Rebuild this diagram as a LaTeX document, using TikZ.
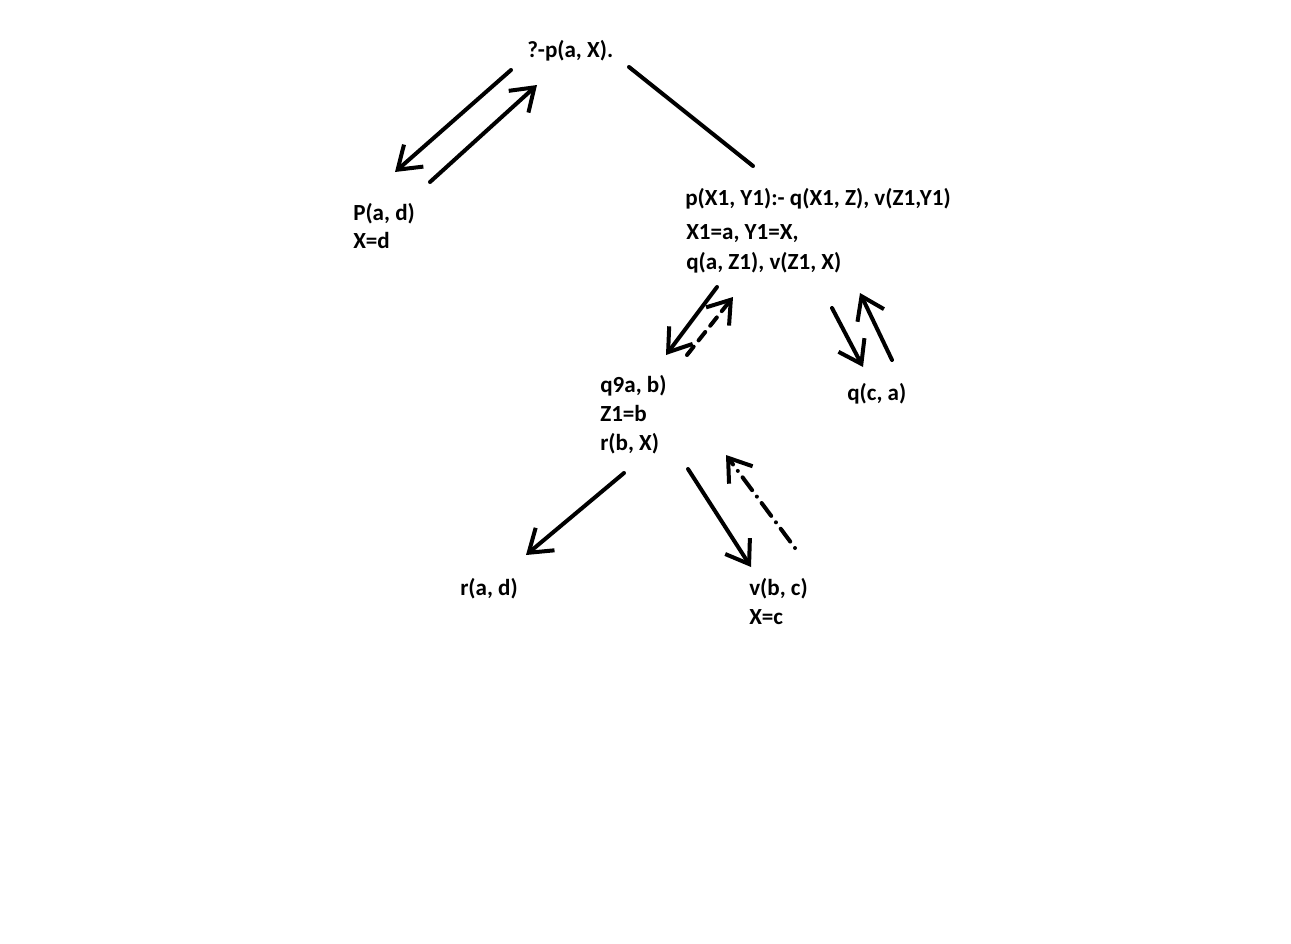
\documentclass[tikz,border=0pt]{standalone}
\usepackage{fontspec}
\setmainfont{Carlito}
\usetikzlibrary{arrows.meta}
\begin{document}
\begin{tikzpicture}[x=0.75pt,y=-0.75pt,
  lbl/.style={anchor=base west,inner sep=0pt,font=\fontsize{17.3}{22}\selectfont\bfseries},
  edge/.style={line width=3pt,line cap=round,line join=round},
  arr/.style={edge,-{Straight Barb[length=16pt,width=22pt,line width=3pt]}},
  dasharr/.style={arr,dash pattern=on 8pt off 6pt},
  dotarr/.style={arr,dash pattern=on 0pt off 6pt on 12pt off 6pt}]
\fill[white] (0,0) rectangle (1291,943);
\useasboundingbox (0,0) rectangle (1291,943);
% texts
\node[lbl] (t0)  at (527,57)  {?-p(a, X).};
\node[lbl] (t1a) at (353,220) {P(a, d)};
\node[lbl] (t1b) at (353,248) {X=d};
\node[lbl] (t2a) at (685,205) {p(X1, Y1):- q(X1, Z), v(Z1,Y1)};
\node[lbl] (t2b) at (686,239) {X1=a, Y1=X,};
\node[lbl] (t2c) at (686,269) {q(a, Z1), v(Z1, X)};
\node[lbl] (t3a) at (600,392) {q9a, b)};
\node[lbl] (t3b) at (600,421) {Z1=b};
\node[lbl] (t3c) at (600,450) {r(b, X)};
\node[lbl] (t4)  at (847,400) {q(c, a)};
\node[lbl] (t5)  at (460,595) {r(a, d)};
\node[lbl] (t6a) at (749,595) {v(b, c)};
\node[lbl] (t6b) at (749,624) {X=c};
% connector end points
\coordinate (a1s) at (511,70);  \coordinate (a1e) at (395,172);
\coordinate (a2s) at (430,182); \coordinate (a2e) at (537,85);
\coordinate (l1s) at (629,67);  \coordinate (l1e) at (753,166);
\coordinate (a3s) at (717,287); \coordinate (a3e) at (666,355);
\coordinate (a4s) at (687,355); \coordinate (a4e) at (733,297);
\coordinate (a5s) at (832,308); \coordinate (a5e) at (863,367);
\coordinate (a6s) at (892,360); \coordinate (a6e) at (860,293);
\coordinate (a7s) at (624,473); \coordinate (a7e) at (526,555);
\coordinate (a8s) at (688,469); \coordinate (a8e) at (751,567);
\coordinate (a9s) at (795,548); \coordinate (a9e) at (726,455);
% connectors
\draw[arr] (a1s) -- (a1e);
\draw[arr] (a2s) -- (a2e);
\draw[edge] (l1s) -- (l1e);
\draw[arr] (a3s) -- (a3e);
\draw[dasharr] (a4s) -- (a4e);
\draw[arr] (a5s) -- (a5e);
\draw[arr] (a6s) -- (a6e);
\draw[arr] (a7s) -- (a7e);
\draw[arr] (a8s) -- (a8e);
\draw[dotarr] (a9s) -- (a9e);
\end{tikzpicture}
\end{document}
